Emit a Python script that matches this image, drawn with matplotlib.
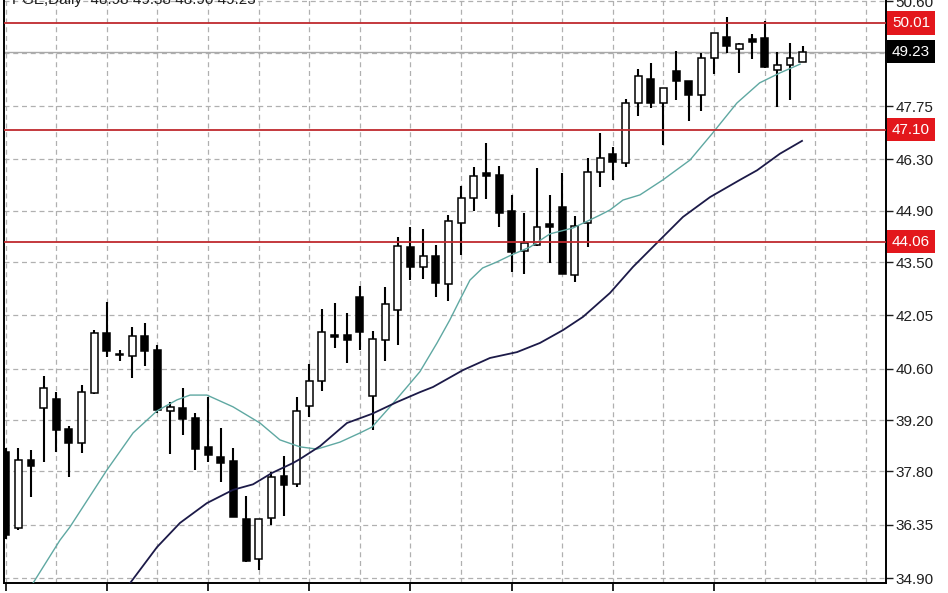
import numpy as np
import matplotlib
matplotlib.use("Agg")
import matplotlib.pyplot as plt
from matplotlib.ticker import FixedLocator
from matplotlib.transforms import blended_transform_factory, offset_copy

# daily bars, oldest first
opens = [38.34, 36.25, 38.11, 39.54, 39.77, 38.95, 38.57, 39.93, 41.58, 41.00,
         40.94, 41.49, 41.11, 39.45, 39.52, 39.25, 38.47, 38.20, 38.09, 36.50,
         35.41, 36.53, 37.69, 37.46, 39.58, 40.27, 41.52, 41.52, 42.56, 39.86,
         41.38, 42.20, 43.90, 43.38, 43.67, 42.90, 44.57, 45.25, 45.92, 45.87,
         44.89, 43.81, 43.97, 44.53, 45.01, 43.15, 44.56, 45.95, 46.43, 46.19,
         47.84, 48.49, 47.84, 48.71, 48.44, 48.05, 49.05, 49.64, 49.30, 49.57,
         49.61, 48.73, 48.87, 48.94]
highs = [38.45, 38.43, 38.38, 40.41, 39.97, 39.05, 40.15, 41.65, 42.42, 41.11,
         41.74, 41.83, 41.24, 39.70, 40.06, 39.40, 39.82, 38.99, 38.43, 37.13,
         36.50, 37.79, 38.22, 39.82, 40.72, 42.22, 42.40, 42.12, 42.86, 41.62,
         42.81, 44.18, 44.45, 44.40, 43.97, 44.78, 45.57, 46.08, 46.73, 46.13,
         45.33, 44.85, 46.05, 45.33, 45.92, 44.76, 46.34, 47.01, 46.64, 47.93,
         48.75, 48.93, 48.23, 49.26, 48.44, 49.20, 49.73, 50.18, 49.47, 49.70,
         50.07, 49.21, 49.46, 49.39]
lows = [35.95, 36.21, 37.11, 38.07, 38.34, 37.64, 38.31, 39.90, 40.93, 40.82,
        40.34, 40.67, 39.40, 38.28, 38.79, 37.84, 38.07, 37.51, 36.55, 35.34,
        35.12, 36.34, 36.59, 37.39, 39.27, 40.00, 41.15, 40.76, 41.11, 38.93,
        40.82, 41.24, 43.01, 43.04, 42.54, 42.45, 43.69, 44.90, 45.21, 44.46,
        43.24, 43.18, 43.94, 43.47, 43.18, 42.95, 43.92, 45.55, 45.74, 46.10,
        47.48, 47.69, 46.69, 47.91, 47.35, 47.62, 48.62, 49.20, 48.64, 49.02,
        48.78, 47.72, 47.91, 48.94]
closes = [36.07, 38.11, 37.95, 40.06, 38.93, 38.57, 39.97, 41.58, 41.08, 40.97,
          41.49, 41.08, 39.47, 39.55, 39.22, 38.40, 38.25, 38.02, 36.57, 35.36,
          36.50, 37.66, 37.43, 39.46, 40.27, 41.61, 41.46, 41.38, 41.59, 41.40,
          42.36, 43.94, 43.36, 43.67, 42.92, 44.62, 45.25, 45.85, 45.85, 44.83,
          43.78, 44.01, 44.45, 44.46, 43.18, 44.49, 45.96, 46.33, 46.23, 47.84,
          48.57, 47.84, 48.23, 48.44, 48.05, 49.05, 49.73, 49.38, 49.44, 49.50,
          48.80, 48.87, 49.05, 49.23]

# moving averages, read at bar positions
fast_ma_x = [2.16, 4.29, 5.08, 8.0, 10.07, 11.96, 13.54, 14.57, 15.91, 17.97,
             20.1, 21.68, 23.27, 24.61, 26.43, 28.01, 28.96, 30.38, 31.72, 32.75,
             34.1, 35.1, 35.9, 36.7, 37.7, 38.8, 39.95, 41.45, 43.03, 44.85,
             46.19, 46.98, 47.77, 48.8, 50.14, 51.96, 54.1, 55.9, 57.8, 59.6,
             61.2, 62.8]
fast_ma = [34.76, 35.93, 36.29, 37.84, 38.85, 39.45, 39.75, 39.88, 39.88, 39.56,
           39.12, 38.66, 38.47, 38.41, 38.60, 38.85, 39.01, 39.56, 40.10, 40.52,
           41.30, 41.92, 42.47, 43.01, 43.34, 43.50, 43.69, 43.91, 44.27, 44.43,
           44.65, 44.78, 44.92, 45.19, 45.33, 45.74, 46.28, 47.02, 47.83, 48.38,
           48.65, 48.89]
slow_ma_x = [9.83, 11.96, 13.78, 15.91, 17.97, 19.55, 21.05, 22.71, 23.27,
             24.85, 26.98, 28.96, 30.93, 32.75, 33.78, 36.15, 38.28, 40.42, 42.24,
             44.06, 45.64, 47.77, 49.59, 51.56, 53.54, 55.68, 58.05, 59.4, 61.2,
             62.95]
slow_ma = [34.76, 35.74, 36.40, 36.94, 37.30, 37.45, 37.76, 38.03, 38.14,
           38.49, 39.12, 39.37, 39.69, 39.96, 40.10, 40.56, 40.89, 41.05, 41.30,
           41.65, 42.01, 42.66, 43.37, 44.05, 44.73, 45.27, 45.74, 46.00, 46.45,
           46.80]

price_ticks = [34.90, 36.35, 37.80, 39.20, 40.60, 42.05, 43.50, 44.90, 46.30,
               47.75, 49.20, 50.60]
levels = [50.01, 47.10, 44.06]
last_price = 49.23
title = "PGE,Daily  48.98 49.38 48.90 49.23"

plt.rcParams["font.family"] = ["Liberation Sans", "DejaVu Sans"]

fig = plt.figure(figsize=(9.48, 5.93), dpi=100)
ax = fig.add_axes([4 / 948, 10 / 593, 882 / 948, 583 / 593])

n = len(opens)
idx = np.arange(n)
o = np.array(opens)
c = np.array(closes)

# wicks
ax.vlines(idx, lows, highs, color="black", linewidth=1.5, zorder=3)
# bodies
bottom = np.minimum(o, c)
height = np.maximum(np.abs(c - o), 0.03)
face = ["white" if cc > oo else "black" for oo, cc in zip(o, c)]
ax.bar(idx, height, bottom=bottom, width=0.55, color=face,
       edgecolor="black", linewidth=1.1, zorder=4)

# moving averages
ax.plot(fast_ma_x, fast_ma, color="#5fa8a2", linewidth=1.0, zorder=5)
ax.plot(slow_ma_x, slow_ma, color="#1c1a48", linewidth=1.3, zorder=5)

# horizontal levels
for lv in levels:
    ax.axhline(lv, color="#bf2a2e", linewidth=1.3, zorder=6)
ax.axhline(last_price, color="#a9a9a9", linewidth=1.0, zorder=1.5)

ax.set_xlim(-0.134, 69.59)
ax.set_ylim(34.764, 50.636)

# ticks & grid; the 49.20 label sits under the last-price tag
ax.yaxis.tick_right()
ax.set_yticks(price_ticks)
ax.set_yticklabels(["" if abs(t - last_price) < 0.1 else "%.2f" % t
                    for t in price_ticks])
ax.tick_params(axis="y", direction="out", length=5, width=1, pad=2,
               labelsize=11, colors="#1e1e1e")
ax.xaxis.set_major_locator(FixedLocator(np.arange(0, 57, 8)))
ax.xaxis.set_minor_locator(FixedLocator(np.arange(0, 69, 4)))
ax.tick_params(axis="x", which="major", direction="out", length=6, width=1.2,
               labelbottom=False)
ax.tick_params(axis="x", which="minor", length=0)
ax.grid(True, which="both", axis="x", color="#b0b0b0",
        linestyle=(0, (4, 3)), linewidth=0.9, zorder=0)
ax.grid(True, which="major", axis="y", color="#b0b0b0",
        linestyle=(0, (4, 3)), linewidth=0.9, zorder=0)
ax.set_axisbelow(True)

for side in ["left", "right", "bottom"]:
    ax.spines[side].set_color("black")
    ax.spines[side].set_linewidth(1.4)
ax.spines["top"].set_visible(False)

# price tags on the right axis
trans = blended_transform_factory(ax.transAxes, ax.transData)
trans = offset_copy(trans, fig=fig, x=6, y=0, units="dots")
for lv in levels:
    ax.text(1.0, lv, "%.2f" % lv, transform=trans, ha="left", va="center",
            fontsize=11, color="white", clip_on=False, zorder=10,
            bbox=dict(boxstyle="square,pad=0.3", fc="#e3171c", ec="none"))
ax.text(1.0, last_price, "%.2f" % last_price, transform=trans, ha="left",
        va="center", fontsize=11, color="white", clip_on=False, zorder=10,
        bbox=dict(boxstyle="square,pad=0.3", fc="black", ec="none"))

fig.text(12 / 948, 1 - 4 / 593, title, fontsize=11, color="#1e1e1e",
         va="baseline", ha="left")

fig.savefig("out.png", dpi=100)
